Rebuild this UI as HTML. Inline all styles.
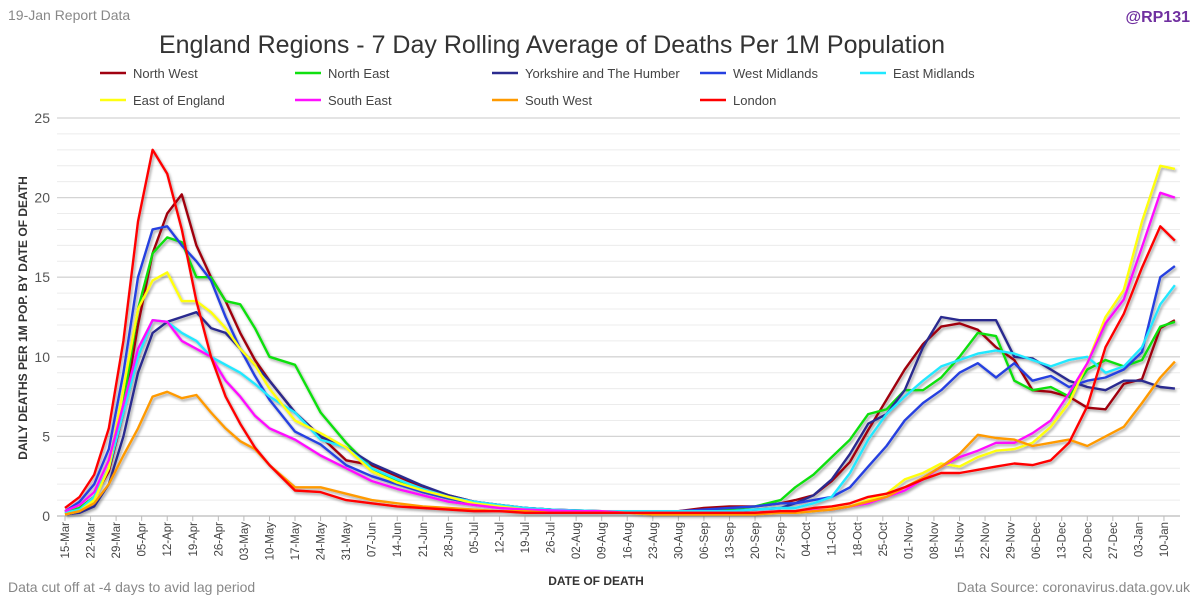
<!DOCTYPE html>
<html><head><meta charset="utf-8"><style>
body{margin:0;background:#fff;width:1200px;height:601px;overflow:hidden;font-family:"Liberation Sans",sans-serif}
</style></head><body>
<svg id="chart" width="1200" height="601" xmlns="http://www.w3.org/2000/svg" style="font-family:'Liberation Sans',sans-serif">
<defs><filter id="sh" x="-5%" y="-5%" width="110%" height="110%"><feDropShadow dx="1.5" dy="2" stdDeviation="1.2" flood-color="#000" flood-opacity="0.35"/></filter></defs>
<rect width="1200" height="601" fill="#fff"/>
<text x="8" y="20" font-size="14" fill="#888">19-Jan Report Data</text>
<text x="1190" y="22" font-size="16" font-weight="bold" fill="#7030a0" text-anchor="end">@RP131</text>
<text x="552" y="53" font-size="25" fill="#333" text-anchor="middle">England Regions - 7 Day Rolling Average of Deaths Per 1M Population</text>
<g id="grid"></g><g id="yticks"></g><g id="xticks"></g><g id="legend"></g><g id="series" filter="url(#sh)"></g>
<text transform="translate(27,318) rotate(-90)" font-size="12" font-weight="bold" fill="#333" text-anchor="middle">DAILY DEATHS PER 1M POP. BY DATE OF DEATH</text>
<text x="596" y="585" font-size="12" font-weight="bold" fill="#333" text-anchor="middle">DATE OF DEATH</text>
<text x="8" y="592" font-size="14" fill="#888">Data cut off at -4 days to avid lag period</text>
<text x="1190" y="592" font-size="14" fill="#888" text-anchor="end">Data Source: coronavirus.data.gov.uk</text>
</svg>
<script>
const days=[0,4,8,12,16,20,24,28,32,36,40,44,48,52,56,63,70,77,84,91,98,105,112,119,126,133,140,147,154,161,168,175,182,189,196,200,205,210,215,220,225,230,235,240,245,250,255,260,265,270,275,280,285,290,295,300,304];
const xLabels=["15-Mar","22-Mar","29-Mar","05-Apr","12-Apr","19-Apr","26-Apr","03-May","10-May","17-May","24-May","31-May","07-Jun","14-Jun","21-Jun","28-Jun","05-Jul","12-Jul","19-Jul","26-Jul","02-Aug","09-Aug","16-Aug","23-Aug","30-Aug","06-Sep","13-Sep","20-Sep","27-Sep","04-Oct","11-Oct","18-Oct","25-Oct","01-Nov","08-Nov","15-Nov","22-Nov","29-Nov","06-Dec","13-Dec","20-Dec","27-Dec","03-Jan","10-Jan"];
const yTicks=[0,5,10,15,20,25];
const names=["North West","North East","Yorkshire and The Humber","West Midlands","East Midlands","East of England","South East","South West","London"];
const colors=["#a00010","#10e010","#2b2b8f","#2540e0","#20e8ff","#ffff10","#ff10ff","#ff9a00","#ff0000"];
const northWest=[0.2,0.5,1.2,2.8,6.5,12,16.5,19,20.2,17,15,13.5,11.5,9.8,8.5,6.5,5,3.5,3.2,2.5,1.8,1.3,0.9,0.7,0.5,0.4,0.35,0.3,0.3,0.3,0.3,0.5,0.6,0.6,0.8,1.0,1.3,2.2,3.4,5.4,7.3,9.2,10.8,11.9,12.1,11.7,10.6,9.8,7.9,7.8,7.5,6.8,6.7,8.3,8.6,11.8,12.3];
const northEast=[0.2,0.5,1.2,3,7,13,16.5,17.5,17.2,15,15,13.5,13.3,11.8,10,9.5,6.5,4.6,3,2.2,1.5,1.1,0.8,0.6,0.5,0.4,0.3,0.3,0.3,0.3,0.3,0.3,0.4,0.6,1.0,1.8,2.6,3.7,4.8,6.4,6.7,7.9,7.9,8.7,10,11.5,11.3,8.5,7.9,8.1,7.5,9.2,9.8,9.4,9.8,11.9,12.2];
const yorkshire=[0.1,0.2,0.6,2,5,9,11.5,12.2,12.5,12.8,11.8,11.5,10.5,9.5,8.5,6.5,5,4.3,3.3,2.6,1.9,1.3,0.9,0.7,0.5,0.4,0.35,0.3,0.3,0.3,0.3,0.3,0.3,0.4,0.5,0.8,1.3,2.3,3.9,5.8,6.4,7.9,10.6,12.5,12.3,12.3,12.3,10,9.9,9.2,8.5,8.1,7.9,8.5,8.5,8.1,8.0];
const westMidlands=[0.3,0.9,2,4.2,9,15,18,18.2,17,16,14.8,12.5,10.5,8.8,7.3,5.3,4.5,3.2,2.5,2,1.5,1.1,0.8,0.6,0.5,0.4,0.3,0.3,0.3,0.3,0.3,0.4,0.5,0.6,0.8,0.8,1.0,1.2,1.8,3.1,4.4,6,7.1,7.9,9,9.6,8.7,9.6,8.5,8.8,8.1,8.5,8.7,9.2,10.3,15,15.7];
const eastMidlands=[0.2,0.4,1.2,3,6.5,10,12.3,12.2,11.5,11,10,9.5,9,8.3,7.5,6.5,4.8,4.3,3,2.3,1.7,1.2,0.9,0.7,0.5,0.4,0.35,0.3,0.3,0.3,0.3,0.3,0.3,0.4,0.5,0.5,0.8,1.2,2.7,4.8,6.4,7.5,8.5,9.4,9.8,10.2,10.4,10.2,9.8,9.4,9.8,10,9,9.4,10.6,13.3,14.5];
const eastOfEngland=[0.1,0.3,1,3,8,13,14.8,15.3,13.5,13.5,12.8,11.8,10.5,9.5,8,6,5.2,4.3,2.8,2.1,1.6,1.2,0.8,0.6,0.4,0.3,0.3,0.3,0.2,0.2,0.2,0.2,0.2,0.2,0.2,0.2,0.3,0.5,0.6,1,1.4,2.3,2.7,3.3,3.1,3.7,4.1,4.2,4.6,5.6,7.1,9.6,12.5,14.2,18.5,22,21.8];
const southEast=[0.3,0.7,1.5,3.5,7,10.5,12.3,12.2,11,10.5,10,8.5,7.5,6.3,5.5,4.8,3.8,3.0,2.2,1.7,1.3,0.9,0.7,0.5,0.4,0.35,0.3,0.3,0.2,0.2,0.2,0.2,0.2,0.2,0.3,0.3,0.35,0.4,0.6,0.8,1.2,1.6,2.3,3.1,3.7,4.1,4.6,4.6,5.2,6,7.7,9.6,12.1,13.6,16.9,20.3,20];
const southWest=[0.1,0.3,0.8,2,3.8,5.5,7.5,7.8,7.4,7.6,6.5,5.5,4.7,4.2,3.2,1.8,1.8,1.4,1.0,0.8,0.6,0.5,0.4,0.3,0.3,0.2,0.2,0.2,0.2,0.1,0.1,0.1,0.1,0.1,0.2,0.2,0.3,0.4,0.6,0.9,1.2,1.8,2.4,3.1,3.9,5.1,4.9,4.8,4.4,4.6,4.8,4.4,5,5.6,7.1,8.7,9.7];
const london=[0.5,1.2,2.6,5.5,11,18.5,23,21.5,18,13.5,10,7.5,5.8,4.3,3.2,1.6,1.5,1.0,0.8,0.6,0.5,0.4,0.3,0.3,0.2,0.2,0.2,0.2,0.2,0.2,0.2,0.2,0.2,0.2,0.3,0.3,0.5,0.6,0.8,1.2,1.4,1.8,2.3,2.7,2.7,2.9,3.1,3.3,3.2,3.5,4.6,6.9,10.6,12.7,15.6,18.2,17.3];
const seriesData=[northWest,northEast,yorkshire,westMidlands,eastMidlands,eastOfEngland,southEast,southWest,london];
const NS="http://www.w3.org/2000/svg";
const X0=65,XD=3.651,Y0=516,YS=15.92,XL=57,XR=1180;
const xScale=d=>X0+d*XD, yScale=v=>Y0-v*YS;
function mk(tag,attrs,parent){const e=document.createElementNS(NS,tag);for(const k in attrs)e.setAttribute(k,attrs[k]);parent.appendChild(e);return e;}
const grid=document.getElementById('grid');
for(let v=1;v<=25;v++){
  const l=mk('line',{x1:XL,x2:XR,y1:yScale(v),y2:yScale(v),stroke:v%5===0?'#d4d4d4':'#ececec','stroke-width':v%5===0?1.3:1},grid);
  
  
}
const ax=mk('line',{x1:XL,x2:XR,y1:Y0,y2:Y0,stroke:'#bbb','stroke-width':1.3},grid);


const yt=document.getElementById('yticks');
yTicks.forEach(v=>{const t=mk('text',{x:50,y:yScale(v)+5,'font-size':14,fill:'#555','text-anchor':'end'},yt);t.textContent=v;
  
  });
const xt=document.getElementById('xticks');
xLabels.forEach((lab,i)=>{const x=xScale(i*7);
  const tk=mk('line',{x1:x,x2:x,y1:Y0,y2:Y0+5,stroke:'#bbb'},xt);
  
  
  const t=mk('text',{transform:`translate(${x+4},${Y0+6}) rotate(-90)`,'font-size':11.5,fill:'#444','text-anchor':'end'},xt);t.textContent=lab;
  
  });
const sg=document.getElementById('series');
seriesData.forEach((vals,si)=>{
  const d=vals.map((v,i)=>(i?'L':'M')+xScale(days[i]).toFixed(1)+','+yScale(v).toFixed(1)).join('');
  const p=mk('path',{d:d,fill:'none',stroke:colors[si],'stroke-width':2.4,'stroke-linejoin':'round'},sg);
  
  
});
const lg=document.getElementById('legend');
const lgPos=[[100,73],[295,73],[492,73],[700,73],[860,73],[100,100],[295,100],[492,100],[700,100]];
names.forEach((n,i)=>{const [x,y]=lgPos[i];
  const g=mk('g',{},lg);
  
  
  mk('line',{x1:x,x2:x+26,y1:y,y2:y,stroke:colors[i],'stroke-width':2.5},g);
  const t=mk('text',{x:x+33,y:y+5,'font-size':13,fill:'#444'},g);t.textContent=n;});
</script>
</body></html>
